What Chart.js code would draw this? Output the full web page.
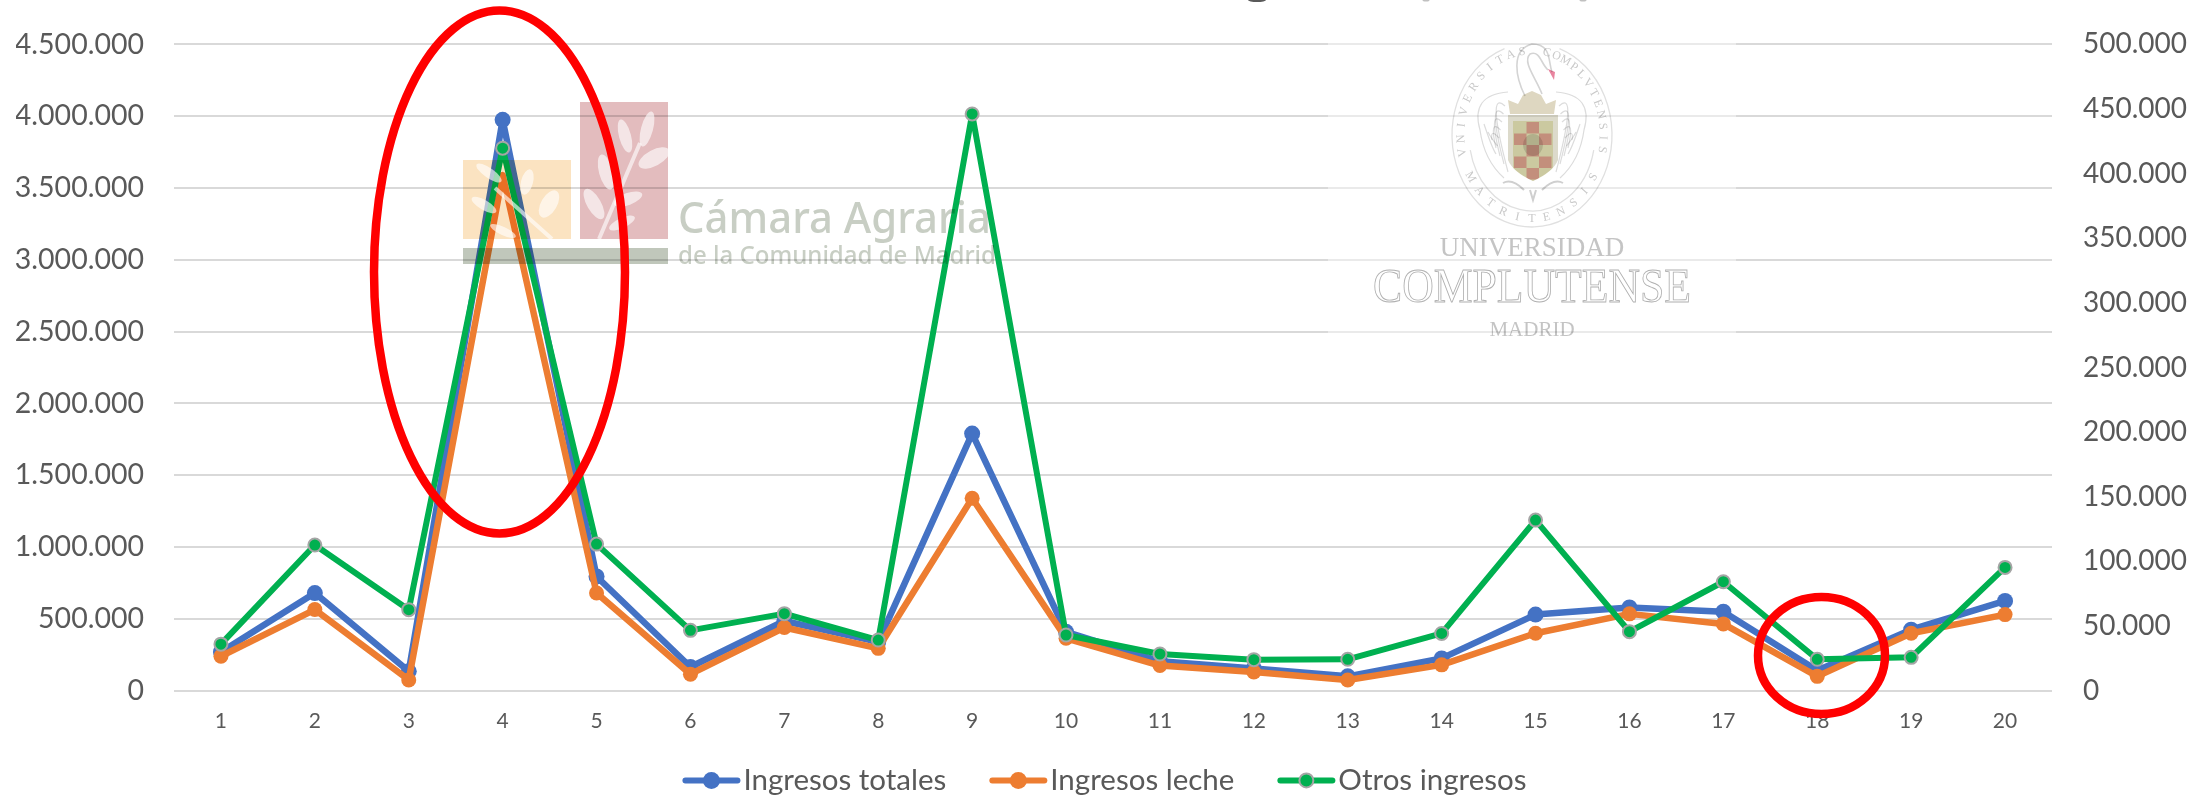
<!DOCTYPE html>
<html lang="es">
<head>
<meta charset="utf-8">
<title>Ingresos</title>
<style>html,body{margin:0;padding:0;background:#fff}canvas{display:block}</style>
<script src="https://cdn.jsdelivr.net/npm/chart.js@4/dist/chart.umd.min.js"></script>
</head>
<body>
<canvas id="c" width="2193" height="795"></canvas>
<script>
const categories = ['1','2','3','4','5','6','7','8','9','10','11','12','13','14','15','16','17','18','19','20'];
const ingresosTotales = [270000,680000,135000,3975000,795000,165000,485000,340000,1790000,410000,205000,155000,100000,225000,530000,580000,550000,140000,425000,625000];
const ingresosLeche = [240000,565000,75000,3590000,680000,115000,440000,295000,1340000,365000,175000,130000,75000,180000,400000,535000,465000,100000,400000,530000];
const otrosIngresos = [36000,112700,62700,419700,113400,46700,59600,39200,446200,43100,28400,24000,24300,44300,132000,45700,84300,24300,25800,95400];

const GREY='#595959', BLUE='#4472c4', ORANGE='#ed7d31', GREEN='#00b050';

function rotEllipse(ctx,x,y,rx,ry,deg,fill){
  ctx.beginPath();ctx.ellipse(x,y,rx,ry,deg*Math.PI/180,0,Math.PI*2);ctx.fillStyle=fill;ctx.fill();
}
function logoCamara(ctx){
  ctx.save();
  ctx.filter='blur(0.6px)';
  ctx.globalCompositeOperation='multiply';
  ctx.fillStyle='#fbe3c1';ctx.fillRect(463,160,108,79);
  ctx.fillStyle='#e3bcbe';ctx.fillRect(580,102,88,137);
  ctx.fillStyle='#c0c7bb';ctx.fillRect(463,248,205,16);
  ctx.globalCompositeOperation='source-over';
  const w='rgba(255,255,255,0.62)';
  ctx.strokeStyle=w;ctx.lineWidth=4;ctx.beginPath();ctx.moveTo(495,188);ctx.lineTo(552,239);ctx.stroke();
  rotEllipse(ctx,489,173,15,5,35,w);
  rotEllipse(ctx,527,182,6,13,15,w);
  rotEllipse(ctx,549,204,8,15,30,w);
  rotEllipse(ctx,484,205,14,5,30,w);
  rotEllipse(ctx,503,231,14,4,25,w);
  ctx.lineWidth=4;ctx.beginPath();ctx.moveTo(640,143);ctx.lineTo(599,239);ctx.stroke();
  rotEllipse(ctx,647,129,6,18,15,w);
  rotEllipse(ctx,625,136,6,17,-15,w);
  rotEllipse(ctx,654,158,17,8,-28,w);
  rotEllipse(ctx,606,172,7,18,-15,w);
  rotEllipse(ctx,628,199,15,6,-20,w);
  rotEllipse(ctx,594,204,7,17,-30,w);
  rotEllipse(ctx,622,223,14,5,-25,w);
  ctx.globalCompositeOperation='multiply';
  ctx.fillStyle='#c8cec4';ctx.textAlign='left';ctx.textBaseline='alphabetic';
  ctx.font='500 44px "Noto Sans"';ctx.fillText('Cámara Agraria',678,233,313);
  ctx.font='500 25px "Noto Sans"';ctx.fillText('de la Comunidad de Madrid',678,264,318);
  ctx.restore();
}
function ringText(ctx,str,cx,cy,rx,ry,startDeg,endDeg,inward){
  const n=str.length;
  for(let i=0;i<n;i++){
    const a=(startDeg+(endDeg-startDeg)*i/(n-1))*Math.PI/180;
    const x=cx+rx*Math.cos(a), y=cy+ry*Math.sin(a);
    ctx.save();ctx.translate(x,y);ctx.rotate(a+(inward?Math.PI/2:-Math.PI/2));
    ctx.fillText(str[i],0,0);ctx.restore();
  }
}
function logoUCM(ctx){
  ctx.save();
  ctx.fillStyle='rgba(255,255,255,0.45)';ctx.fillRect(1328,0,408,387);
  ctx.filter='blur(0.4px)';
  ctx.globalCompositeOperation='multiply';
  const cx=1532;
  ctx.strokeStyle='#e0e0e0';ctx.lineWidth=1.3;
  ctx.beginPath();ctx.ellipse(cx,135,80,92,0,-1.22,Math.PI+1.22);ctx.stroke();
  ctx.beginPath();ctx.ellipse(cx,135,63,76,0,0.2,Math.PI-0.2);ctx.stroke();
  ctx.fillStyle='#c9c9c9';ctx.font='12px "Liberation Serif"';ctx.textAlign='center';ctx.textBaseline='middle';
  ringText(ctx,'VNIVERSITAS',cx,135,71,84,168,262,true);
  ringText(ctx,'COMPLVTENSIS',cx,135,71,84,-78,10,true);
  ringText(ctx,'MATRITENSIS',cx,135,71,84,150,30,false);
  ctx.strokeStyle='#d4d4d4';ctx.lineWidth=1.6;
  ctx.beginPath();ctx.moveTo(1525,96);ctx.bezierCurveTo(1516,78,1510,50,1532,44);ctx.bezierCurveTo(1552,44,1548,62,1552,72);ctx.stroke();
  ctx.beginPath();ctx.moveTo(1542,94);ctx.bezierCurveTo(1536,78,1522,62,1530,54);ctx.bezierCurveTo(1540,50,1541,64,1548,70);ctx.stroke();
  ctx.fillStyle='#e9849f';ctx.beginPath();ctx.moveTo(1548,69);ctx.lineTo(1555,72);ctx.lineTo(1554,80);ctx.closePath();ctx.fill();
  ctx.strokeStyle='#dcdcdc';ctx.lineWidth=1.2;
  for(const s of [-1,1]){
    for(let i=0;i<7;i++){
      ctx.beginPath();ctx.moveTo(cx+s*(27+i*1.5),106+i*8);ctx.quadraticCurveTo(cx+s*(46-i),88+i*10,cx+s*(24+i*4),172-i*8);ctx.stroke();
    }
    ctx.beginPath();ctx.moveTo(cx+s*24,92);ctx.quadraticCurveTo(cx+s*62,95,cx+s*52,130);ctx.quadraticCurveTo(cx+s*48,160,cx+s*28,178);ctx.stroke();
  }
  ctx.fillStyle='#ded7c1';
  ctx.beginPath();ctx.moveTo(1510,114);ctx.lineTo(1508,100);ctx.lineTo(1518,104);ctx.lineTo(1523,95);ctx.lineTo(1532,91);ctx.lineTo(1541,95);ctx.lineTo(1546,104);ctx.lineTo(1556,100);ctx.lineTo(1554,114);ctx.closePath();ctx.fill();
  ctx.save();
  ctx.beginPath();ctx.moveTo(1508,115);ctx.lineTo(1558,115);ctx.lineTo(1558,160);ctx.quadraticCurveTo(1553,172,1533,181);ctx.quadraticCurveTo(1513,172,1508,160);ctx.closePath();
  ctx.fillStyle='#dcdacb';ctx.fill();ctx.clip();
  ctx.fillStyle='#ecebc9';ctx.fillRect(1513,121,40,60);
  ctx.fillStyle='#f5b5c6';
  for(const [c,r] of [[1,0],[0,1],[2,1],[1,2],[0,3],[2,3],[1,4]]) ctx.fillRect(1514+c*12.5,122+r*11.5,12.5,11.5);
  ctx.fillStyle='#dedede';ctx.beginPath();ctx.ellipse(1533,145,10,11,0,0,Math.PI*2);ctx.fill();
  ctx.restore();
  ctx.strokeStyle='#cfcfcf';ctx.lineWidth=2;
  ctx.beginPath();ctx.moveTo(1503,183);ctx.quadraticCurveTo(1512,178,1524,190);ctx.moveTo(1530,190);ctx.lineTo(1533,200);ctx.lineTo(1536,190);ctx.moveTo(1542,190);ctx.quadraticCurveTo(1554,178,1563,183);ctx.stroke();
  ctx.textAlign='center';ctx.textBaseline='alphabetic';
  ctx.fillStyle='#c4c4c4';
  ctx.font='27px "Liberation Serif"';ctx.fillText('UNIVERSIDAD',cx,256,190);
  ctx.strokeStyle='#b0b0b0';ctx.lineWidth=0.9;
  ctx.font='48px "Liberation Serif"';ctx.strokeText('COMPLUTENSE',cx,302,318);
  ctx.font='21px "Liberation Serif"';ctx.fillText('MADRID',cx,336,96);
  ctx.restore();
}
const overlays={
  id:'overlays',
  afterLayout(chart){
    // the tick labels sit lower than the fixed axis band; keep them unclipped
    chart.scales.x.bottom=chart.scales.x.top+60;
  },
  afterDraw(chart){
    const ctx=chart.ctx;
    // remnants of the title cut off by the top edge
    ctx.save();
    ctx.fillStyle='#5a5a5a';ctx.beginPath();ctx.ellipse(1257,0,9,2,0,0,Math.PI*2);ctx.fill();
    ctx.fillStyle='#8c8c8c';ctx.beginPath();ctx.ellipse(1426,0,3.5,1.5,0,0,Math.PI*2);ctx.fill();
    ctx.beginPath();ctx.ellipse(1583,0,3.5,1.5,0,0,Math.PI*2);ctx.fill();
    ctx.restore();
    logoCamara(ctx);logoUCM(ctx);
    // legend keys
    const boxes=chart.legend.legendHitBoxes, ds=chart.data.datasets;
    boxes.forEach((b,i)=>{
      const y=b.top+b.height/2, x=b.left;
      ctx.save();
      ctx.strokeStyle=ds[i].borderColor;ctx.lineWidth=6;ctx.lineCap='round';
      ctx.beginPath();ctx.moveTo(x+3,y);ctx.lineTo(x+55,y);ctx.stroke();
      ctx.beginPath();ctx.arc(x+29,y,i===2?7:8.5,0,Math.PI*2);
      ctx.fillStyle=ds[i].pointBackgroundColor;ctx.fill();
      if(i===2){ctx.lineWidth=2;ctx.strokeStyle=ds[i].pointBorderColor;ctx.stroke();}
      ctx.restore();
    });
    // red hand-drawn circles
    ctx.save();ctx.strokeStyle='#ff0000';ctx.lineWidth=8.5;
    ctx.beginPath();ctx.ellipse(499.5,272,125.5,261.5,0,0,Math.PI*2);ctx.stroke();
    ctx.beginPath();ctx.ellipse(1821.5,655.5,63.5,58.5,0,0,Math.PI*2);ctx.stroke();
    ctx.restore();
  }
};

new Chart(document.getElementById('c'),{
  type:'line',
  data:{labels:categories,datasets:[
    {label:'Ingresos totales',data:ingresosTotales,yAxisID:'y',borderColor:BLUE,backgroundColor:BLUE,pointBackgroundColor:BLUE,pointBorderColor:BLUE,pointBorderWidth:0,pointRadius:8,borderWidth:6.5,tension:0,borderJoinStyle:'round',borderCapStyle:'round',order:3},
    {label:'Ingresos leche',data:ingresosLeche,yAxisID:'y',borderColor:ORANGE,backgroundColor:ORANGE,pointBackgroundColor:ORANGE,pointBorderColor:ORANGE,pointBorderWidth:0,pointRadius:categories.map((c,i)=>i===3?0:7.5),borderWidth:6.5,tension:0,borderJoinStyle:'round',borderCapStyle:'round',order:2},
    {label:'Otros ingresos',data:otrosIngresos,yAxisID:'y1',borderColor:GREEN,backgroundColor:GREEN,pointBackgroundColor:GREEN,pointBorderColor:'#a5a5a5',pointBorderWidth:2,pointRadius:6.5,borderWidth:6,tension:0,borderJoinStyle:'round',borderCapStyle:'round',order:1}
  ]},
  options:{
    responsive:false,animation:false,
    layout:{padding:{top:44.4,left:16,right:0,bottom:-10.2}},
    plugins:{
      tooltip:{enabled:false},title:{display:false},
      legend:{display:true,position:'bottom',align:'center',
        labels:{boxWidth:46.25,boxHeight:14,padding:43,color:GREY,font:{family:'Lato',size:29.5},
          generateLabels(chart){
            return Chart.defaults.plugins.legend.labels.generateLabels(chart)
              .sort((a,b)=>a.datasetIndex-b.datasetIndex)
              .map(i=>({...i,fillStyle:'rgba(0,0,0,0)',strokeStyle:'rgba(0,0,0,0)',lineWidth:0}));
          }}}
    },
    scales:{
      x:{type:'category',offset:true,grid:{display:false,drawTicks:false},border:{display:false},
        ticks:{color:GREY,font:{family:'Lato',size:21},padding:18,maxRotation:0,autoSkip:false},
        afterFit(s){s.height=32;}},
      y:{type:'linear',position:'left',min:0,max:4500000,
        grid:{color:'#d9d9d9',lineWidth:2,drawTicks:false},border:{display:false},
        ticks:{stepSize:500000,color:GREY,font:{family:'Lato',size:28.5},padding:30,callback:v=>v.toLocaleString('de-DE')},
        afterFit(s){s.width=158;s.paddingTop=0;s.paddingBottom=0;}},
      y1:{type:'linear',position:'right',min:0,max:500000,
        grid:{display:false,drawTicks:false},border:{display:false},
        ticks:{stepSize:50000,color:GREY,font:{family:'Lato',size:28},padding:31,callback:v=>v.toLocaleString('de-DE')},
        afterFit(s){s.width=141;s.paddingTop=0;s.paddingBottom=0;}}
    }
  },
  plugins:[overlays]
});
</script>
</body>
</html>
